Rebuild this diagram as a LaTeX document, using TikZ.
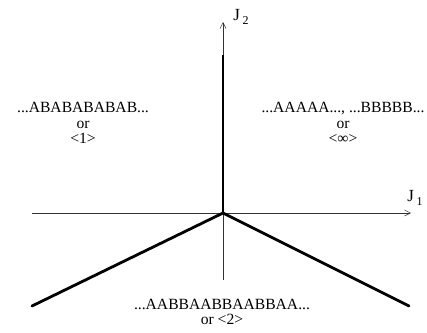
\documentclass[tikz,border=0pt]{standalone}
\usepackage{fontspec}
\setmainfont{Liberation Serif}
\usepackage{tikz}
\usetikzlibrary{arrows.meta,positioning,calc}

\begin{document}
\begin{tikzpicture}[
  x=1pt, y=-1pt,
  axis/.style={-{Straight Barb[length=6pt,width=6pt]}, line width=0.5pt, black!80},
  border/.style={line width=2.8pt},
  lab/.style={align=center, font=\fontsize{15.6}{15.5}\selectfont, inner sep=0pt},
  axlab/.style={inner sep=0pt, font=\fontsize{17}{18}\selectfont}
]
\useasboundingbox (0,0) rectangle (427,332);
\coordinate (O) at (223,213);
\coordinate (xl) at (32,213);
\coordinate (xr) at (411,213);
\coordinate (yt) at (223,22);
\coordinate (yb) at (223,280);
\coordinate (vt) at (223,55);
\coordinate (bl) at (32,306);
\coordinate (br) at (409,306);
% axes
\draw[axis] (xl) -- (xr);
\draw[axis] (yb) -- (yt);
\node[axlab] (J1) at (415,198) {J\,\raisebox{-0.45ex}{\fontsize{12}{12}\selectfont 1}};
\node[axlab] (J2) at (241,17) {J\,\raisebox{-0.45ex}{\fontsize{12}{12}\selectfont 2}};
% phase boundaries
\draw[border] (vt) -- (O);
\draw[border, line cap=round] (bl) -- (O) -- (br);
% phases
\node[lab] (alt) at (83,123) {...ABABABABAB...\\or\\<1>};
\node[lab] (ferro) at (343,123) {...AAAAA..., ...BBBBB...\\or\\<∞>};
\node[lab] (anti) at (222,312) {...AABBAABBAABBAA...\\or <2>};
\end{tikzpicture}
\end{document}
